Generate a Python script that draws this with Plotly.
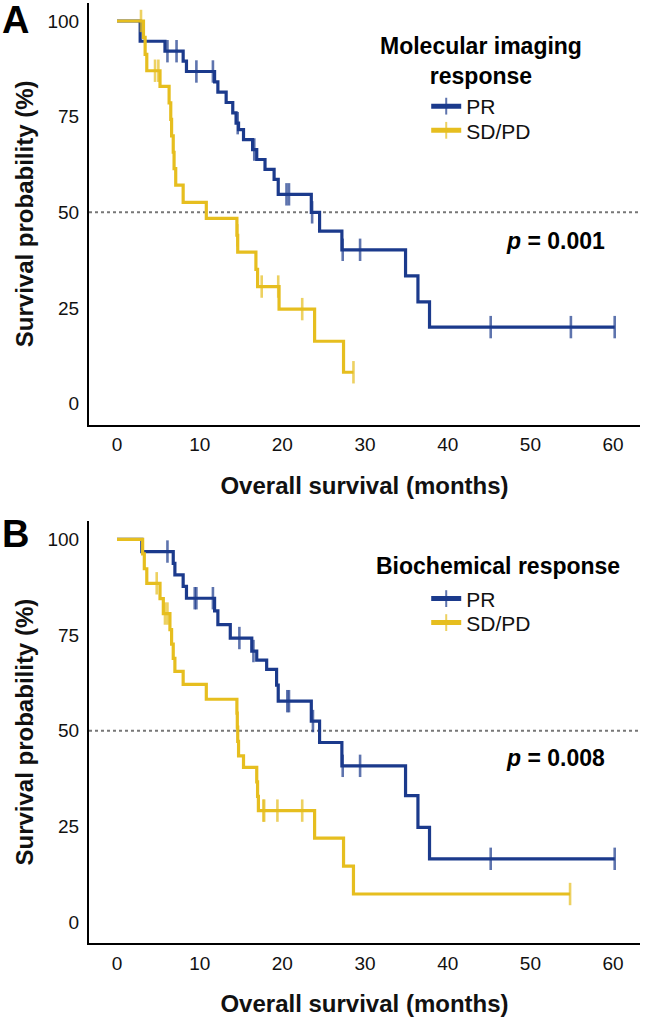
import plotly.graph_objects as go

BLUE = "#1b3a8c"
YELLOW = "#e6be1f"
FONT = "Liberation Sans, Arial, sans-serif"

X_TICKS = [0, 10, 20, 30, 40, 50, 60]
Y_TICKS = [0, 25, 50, 75, 100]
GROUPS = ["PR", "SD/PD"]

# ---- Panel A: molecular imaging response ----
A_PR_event_t = [2.8, 5.8, 8.0, 8.4, 11.8, 12.2, 13.2, 14.0, 14.4, 14.7, 15.3, 16.4, 16.9, 17.9, 19.0, 19.5, 23.5, 24.5, 27.2, 34.9, 36.4, 37.8]
A_PR_event_s = [94.7, 92.1, 89.5, 86.8, 84.1, 81.4, 78.7, 76.0, 73.3, 71.6, 69.0, 66.4, 63.8, 61.2, 58.6, 54.7, 50.0, 45.1, 40.2, 33.4, 26.6, 20.0]
A_PR_censor_t = [6.1, 7.2, 9.6, 11.6, 14.6, 16.6, 20.5, 20.8, 23.6, 27.3, 29.4, 45.2, 54.9]
A_PR_end_t = 60.2

A_SD_event_t = [3.2, 3.4, 3.6, 5.2, 6.3, 6.5, 6.6, 6.8, 6.9, 7.1, 8.0, 10.8, 14.5, 14.6, 16.8, 17.0, 19.6, 23.9, 27.4]
A_SD_event_s = [95.7, 91.3, 87.0, 82.9, 78.6, 74.3, 70.0, 65.7, 61.4, 57.1, 52.6, 48.4, 44.0, 39.6, 35.1, 30.6, 24.7, 16.3, 8.2]
A_SD_censor_t = [2.9, 4.6, 5.0, 14.55, 17.5, 19.5, 22.4]
A_SD_end_t = 28.6

# ---- Panel B: biochemical response ----
B_PR_event_t = [3.0, 6.8, 7.0, 8.0, 8.4, 11.8, 12.2, 13.7, 16.3, 16.9, 18.1, 19.3, 19.5, 23.5, 24.5, 27.2, 34.9, 36.4, 37.8]
B_PR_event_s = [96.8, 93.7, 90.7, 87.7, 84.6, 81.3, 77.7, 74.2, 70.8, 68.4, 66.0, 61.9, 57.7, 52.5, 46.9, 40.8, 33.0, 24.7, 16.5]
B_PR_censor_t = [6.1, 9.4, 9.6, 11.6, 14.8, 16.5, 20.6, 20.8, 23.7, 27.3, 29.4, 45.2]
B_PR_end_t = 60.2

B_SD_event_t = [3.1, 3.3, 3.6, 5.2, 5.6, 6.4, 6.6, 6.8, 7.0, 8.0, 10.8, 14.5, 14.55, 14.6, 14.7, 15.3, 16.9, 17.0, 17.1, 23.9, 27.4, 28.6]
B_SD_event_s = [96.2, 92.3, 88.5, 84.5, 80.6, 76.4, 72.6, 68.9, 65.5, 62.1, 58.2, 54.6, 50.9, 47.2, 43.4, 40.4, 36.6, 32.8, 29.1, 21.9, 14.6, 7.3]
B_SD_censor_t = [4.8, 5.8, 6.1, 17.7, 17.8, 19.4, 22.4]
B_SD_end_t = 54.8

P_VALUES = ["0.001", "0.008"]
LEGEND_TITLES = ["Molecular imaging<br>response", "Biochemical response"]
PANEL_LABELS = ["A", "B"]


def km_points(event_t, event_s, censor_t, end_t):
    def level(t):
        s = 100.0
        for et, es in zip(event_t, event_s):
            if et <= t:
                s = es
        return s
    pts = [(0.0, 100.0, 0)]
    pts += [(t, s, 0) for t, s in zip(event_t, event_s)]
    pts += [(t, level(t), 1) for t in censor_t]
    pts.append((end_t, level(end_t), 1))
    pts.sort(key=lambda p: p[0])
    xs = [p[0] for p in pts]
    ys = [p[1] for p in pts]
    sizes = [16 if p[2] else 0 for p in pts]
    return xs, ys, sizes


fig = go.Figure()

panels = [
    ("x", "y", ["legend", "legend2"],
     [(A_PR_event_t, A_PR_event_s, A_PR_censor_t, A_PR_end_t),
      (A_SD_event_t, A_SD_event_s, A_SD_censor_t, A_SD_end_t)]),
    ("x2", "y2", ["legend3", "legend4"],
     [(B_PR_event_t, B_PR_event_s, B_PR_censor_t, B_PR_end_t),
      (B_SD_event_t, B_SD_event_s, B_SD_censor_t, B_SD_end_t)]),
]

for xa, ya, lgs, series in panels:
    for name, col, lg, (et, es, ct, end) in zip(GROUPS, [BLUE, YELLOW], lgs, series):
        xs, ys, sz = km_points(et, es, ct, end)
        fig.add_trace(go.Scatter(
            x=xs, y=ys, xaxis=xa, yaxis=ya, name=name, legend=lg,
            showlegend=True,
            mode="lines+markers", line=dict(color=col, width=3.2, shape="hv"),
            marker=dict(symbol="line-ns", size=sz, color=col,
                        line=dict(color=col, width=2.6)),
            cliponaxis=False,
        ))

axis_common = dict(showline=True, linecolor="black", linewidth=2, ticks="",
                   showgrid=False, zeroline=False,
                   tickfont=dict(family=FONT, size=19, color="#111"))

X_RANGE = [-3.39, 63.26]
xcommon = dict(axis_common, range=X_RANGE, tickvals=X_TICKS,
               ticklabelstandoff=2,
               title=dict(text="<b>Overall survival (months)</b>",
                          font=dict(family=FONT, size=24, color="#111"), standoff=23))
ycommon = dict(axis_common, range=[-5.5, 104.7], tickvals=Y_TICKS,
               ticklabelstandoff=4,
               title=dict(text="<b>Survival probability (%)</b>",
                          font=dict(family=FONT, size=24, color="#111"), standoff=7))


def leg(y):
    return dict(x=0.612, y=y, xanchor="left", yanchor="top", visible=True,
                font=dict(family=FONT, size=21, color="#111"),
                itemsizing="constant", itemwidth=30,
                bgcolor="rgba(0,0,0,0)")


fig.update_layout(
    width=645, height=1017,
    margin=dict(l=89, r=5, t=3, b=71),
    paper_bgcolor="white", plot_bgcolor="white",
    font=dict(family=FONT, color="#111"),
    showlegend=True,
    xaxis=dict(xcommon, domain=[0, 1], anchor="y"),
    yaxis=dict(ycommon, domain=[0.5514, 1], anchor="x"),
    xaxis2=dict(xcommon, domain=[0, 1], anchor="y2"),
    yaxis2=dict(ycommon, domain=[0, 0.4486], anchor="x2"),
    legend=leg(0.9117), legend2=leg(0.886),
    legend3=leg(0.3878), legend4=leg(0.3623),
)

# median (50 %) reference lines
for xr, yr in [("x", "y"), ("x2", "y2")]:
    fig.add_shape(type="line", xref=xr, yref=yr, x0=X_RANGE[0], x1=X_RANGE[1],
                  y0=50, y1=50, line=dict(color="#777", width=2, dash="dot"),
                  layer="below")

label_y = [0.982, 0.4348]
title_pos = [(0.7114, 0.938), (0.7414, 0.4008)]
p_y = [0.7466, 0.1972]
for i in range(2):
    fig.add_annotation(xref="paper", yref="paper", x=-0.1343, y=label_y[i],
                       xanchor="center", yanchor="middle",
                       text="<b>%s</b>" % PANEL_LABELS[i], showarrow=False,
                       font=dict(family=FONT, size=38, color="black"))
    tx, ty = title_pos[i]
    fig.add_annotation(xref="paper", yref="paper", x=tx, y=ty,
                       xanchor="center", yanchor="middle", align="center",
                       text="<b>%s</b>" % LEGEND_TITLES[i], showarrow=False,
                       font=dict(family=FONT, size=23, color="black"))
    fig.add_annotation(xref="paper", yref="paper", x=0.8475, y=p_y[i],
                       xanchor="center", yanchor="middle",
                       text="<b><i>p</i> = %s</b>" % P_VALUES[i], showarrow=False,
                       font=dict(family=FONT, size=23, color="black"))

fig.write_html("out.html", config={"displayModeBar": False},
               post_script="document.body.style.margin='0px';")
